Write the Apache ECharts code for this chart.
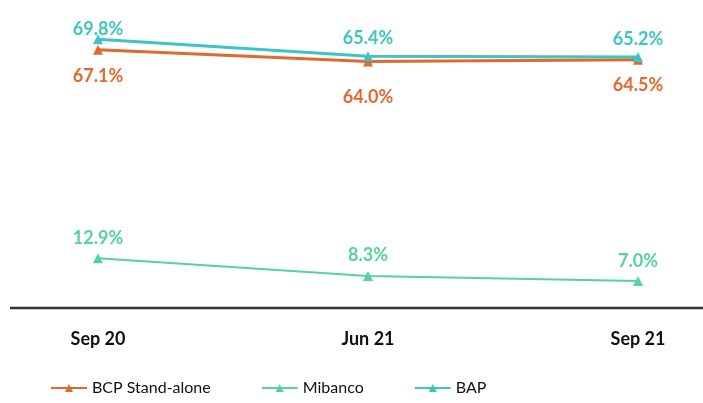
<!DOCTYPE html>
<html><head><meta charset="utf-8">
<script src="https://cdn.jsdelivr.net/npm/echarts@6/dist/echarts.min.js"></script>
<style>html,body{margin:0;padding:0;background:#fff}#c{width:703px;height:403px}</style>
</head><body><div id="c"></div>
<script>
const categories = ['Sep 20', 'Jun 21', 'Sep 21'];
const bcpStandalone = [67.1, 64.0, 64.5];
const mibanco = [12.9, 8.3, 7.0];
const bap = [69.8, 65.4, 65.2];

const chart = echarts.init(document.getElementById('c'));
const fontFam = 'Lato, "Open Sans", sans-serif';
function mk(name, data, color, pos, dists, width) {
  return {
    name, type: 'line', symbol: 'triangle', symbolSize: 10,
    data: data.map((v, i) => ({ value: v, label: { distance: dists[i] } })),
    lineStyle: { color, width }, itemStyle: { color },
    label: { show: true, position: pos, color, fontSize: 18, fontWeight: 'bold', fontFamily: fontFam,
      formatter: p => p.value.toFixed(1) + '%' }
  };
}
chart.setOption({
  animation: false,
  grid: { left: 98, right: 65, top: 0, bottom: 95 },
  xAxis: {
    type: 'category', data: categories, boundaryGap: false,
    axisLine: { show: false }, axisTick: { show: false },
    axisLabel: { color: '#111', fontSize: 18, fontWeight: 'bold', fontFamily: fontFam, margin: 22 }
  },
  yAxis: { type: 'value', min: 0, max: 80, show: false, splitLine: { show: false } },
  legend: {
    bottom: 2, left: 45, itemWidth: 36, itemHeight: 10, itemGap: 50,
    textStyle: { color: '#111', fontSize: 16, fontFamily: fontFam }
  },
  graphic: [{ type: 'line', shape: { x1: 10, y1: 308, x2: 703, y2: 308 }, style: { stroke: '#333', lineWidth: 2.5 } }],
  series: [
    mk('BCP Stand-alone', bcpStandalone, '#E2692E', 'bottom', [13, 22, 12], 3),
    mk('Mibanco', mibanco, '#56D39B', 'top', [6, 7, 6], 2),
    mk('BAP', bap, '#3EC4C4', 'top', [-4, 4, 4], 3)
  ]
});
</script></body></html>
